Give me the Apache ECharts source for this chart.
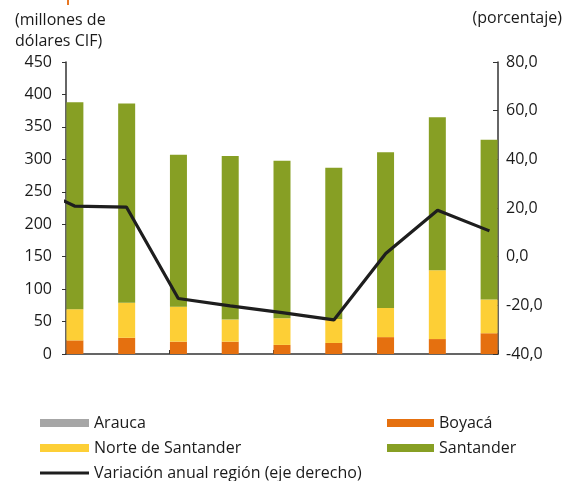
<!DOCTYPE html>
<html>
<head>
<meta charset="utf-8">
<script src="https://cdn.jsdelivr.net/npm/echarts@6/dist/echarts.min.js"></script>
<style>
html,body{margin:0;padding:0;background:#fff}
#chart{width:568px;height:481px}
</style>
</head>
<body>
<div id="chart"></div>
<script>
// datos trimestrales (millones de dolares CIF)
var periodos = ['jun-22','sep-22','dic-22','mar-23','jun-23','sep-23','dic-23','mar-24','jun-24'];
var arauca = [0, 0, 0, 0, 0, 0, 0, 0, 0];
var boyaca = [21, 25, 19, 19, 14, 17, 26, 23, 32];
var norteSantander = [48, 54, 54, 34, 41, 37, 45, 106, 52];
var santander = [319, 307, 234, 252, 243, 233, 240, 236, 246];
// variacion anual (%), eje derecho
var variacion = [20.8, 20.4, -17.2, -20.2, -23.0, -26.0, 1.3, 19.1, 10.6];
var variacionMar22 = 31; // punto anterior, solo asoma en el borde
var ticksIzq = [0, 50, 100, 150, 200, 250, 300, 350, 400, 450];
var ticksDer = [-40, -20, 0, 20, 40, 60, 80];

var fuente = 'Open Sans';
var gris = '#333';
var texto = '#1a1a1a';

function coma(v){
  return v.toFixed(1).replace('.', ',');
}
// linea sobre eje numerico: x = indice del periodo
var linea = [[-1, variacionMar22]];
for (var i = 0; i < variacion.length; i++) linea.push([i, variacion[i]]);

var leyendaTexto = { fontSize: 16, color: texto, lineHeight: 16 };

var chart = echarts.init(document.getElementById('chart'));
var option = {
  animation: false,
  textStyle: { fontFamily: fuente },
  grid: [
    // grid visible con los ejes
    { left: 66, right: 70, top: 62, bottom: 127 },
    // grid ancho solo para las barras (bandas de 51,8 px)
    { left: 49, right: 53, top: 62, bottom: 127 }
  ],
  graphic: [
    { type: 'rect', left: 67, top: 0, shape: { width: 2, height: 5 }, style: { fill: '#E87722' } },
    { type: 'text', left: 15, top: 10, style: { text: '(millones de\ndólares CIF)', font: '16px ' + fuente, fill: texto, lineHeight: 21 } },
    { type: 'text', right: 6, top: 10, style: { text: '(porcentaje)', font: '16px ' + fuente, fill: texto } }
  ],
  legend: [
    {
      left: 40, top: 415, padding: 0, orient: 'vertical', itemWidth: 49, itemHeight: 8, itemGap: 9,
      textStyle: leyendaTexto,
      data: [
        { name: 'Arauca', icon: 'rect' },
        { name: 'Norte de Santander', icon: 'rect' }
      ]
    },
    {
      left: 40, top: 465, padding: 0, itemWidth: 49, itemHeight: 3,
      textStyle: leyendaTexto,
      data: [{ name: 'Variación anual región (eje derecho)', icon: 'rect' }]
    },
    {
      left: 387, top: 415, padding: 0, orient: 'vertical', itemWidth: 47, itemHeight: 8, itemGap: 9,
      textStyle: leyendaTexto,
      data: [
        { name: 'Boyacá', icon: 'rect' },
        { name: 'Santander', icon: 'rect' }
      ]
    }
  ],
  xAxis: [
    {
      gridIndex: 0, type: 'value', min: -0.165, max: 8.165, interval: 2,
      axisLine: { show: true, onZero: false, lineStyle: { color: gris, width: 1.5 } },
      axisTick: { show: false },
      splitLine: { show: false },
      axisLabel: {
        fontSize: 16, color: texto, margin: 13, showMinLabel: false, showMaxLabel: false,
        formatter: function (v) {
          var k = Math.round(v);
          return (Math.abs(v - k) < 1e-6 && k % 2 === 0 && periodos[k]) ? periodos[k] : '';
        }
      }
    },
    {
      // solo las marcas cada dos trimestres
      gridIndex: 0, type: 'value', min: 0, max: 8.33, interval: 2, position: 'bottom',
      axisLine: { show: false, onZero: false },
      axisTick: { show: true, inside: true, length: 4, lineStyle: { color: gris } },
      axisLabel: { show: false },
      splitLine: { show: false }
    },
    {
      gridIndex: 1, type: 'category', data: periodos, show: false
    }
  ],
  yAxis: [
    {
      gridIndex: 0, type: 'value', min: ticksIzq[0], max: ticksIzq[ticksIzq.length - 1], interval: ticksIzq[1] - ticksIzq[0],
      axisLine: { show: true, onZero: false, lineStyle: { color: gris, width: 1.5 } },
      axisTick: { show: true, length: 4, lineStyle: { color: gris } },
      splitLine: { show: false },
      axisLabel: { fontSize: 16, color: texto, margin: 14 }
    },
    {
      gridIndex: 0, type: 'value', min: ticksDer[0], max: ticksDer[ticksDer.length - 1], interval: ticksDer[1] - ticksDer[0],
      position: 'right',
      axisLine: { show: true, onZero: false, lineStyle: { color: gris, width: 1.5 } },
      axisTick: { show: true, inside: true, length: 5, lineStyle: { color: gris } },
      splitLine: { show: false },
      axisLabel: { fontSize: 16, color: texto, margin: 8, formatter: coma }
    },
    {
      gridIndex: 1, type: 'value', min: ticksIzq[0], max: ticksIzq[ticksIzq.length - 1], show: false
    }
  ],
  series: [
    { name: 'Arauca', type: 'bar', xAxisIndex: 2, yAxisIndex: 2, stack: 'x', barWidth: 17, data: arauca, itemStyle: { color: '#A6A6A6' } },
    { name: 'Boyacá', type: 'bar', xAxisIndex: 2, yAxisIndex: 2, stack: 'x', barWidth: 17, data: boyaca, itemStyle: { color: '#E5700F' } },
    { name: 'Norte de Santander', type: 'bar', xAxisIndex: 2, yAxisIndex: 2, stack: 'x', barWidth: 17, data: norteSantander, itemStyle: { color: '#FDCF36' } },
    { name: 'Santander', type: 'bar', xAxisIndex: 2, yAxisIndex: 2, stack: 'x', barWidth: 17, data: santander, itemStyle: { color: '#879F24' } },
    {
      name: 'Variación anual región (eje derecho)', type: 'line', xAxisIndex: 0, yAxisIndex: 1, data: linea,
      symbol: 'none', clip: true, z: 5,
      lineStyle: { color: '#1E1E1E', width: 3.2 }, itemStyle: { color: '#1E1E1E' }
    }
  ]
};
chart.setOption(option);
</script>
</body>
</html>
